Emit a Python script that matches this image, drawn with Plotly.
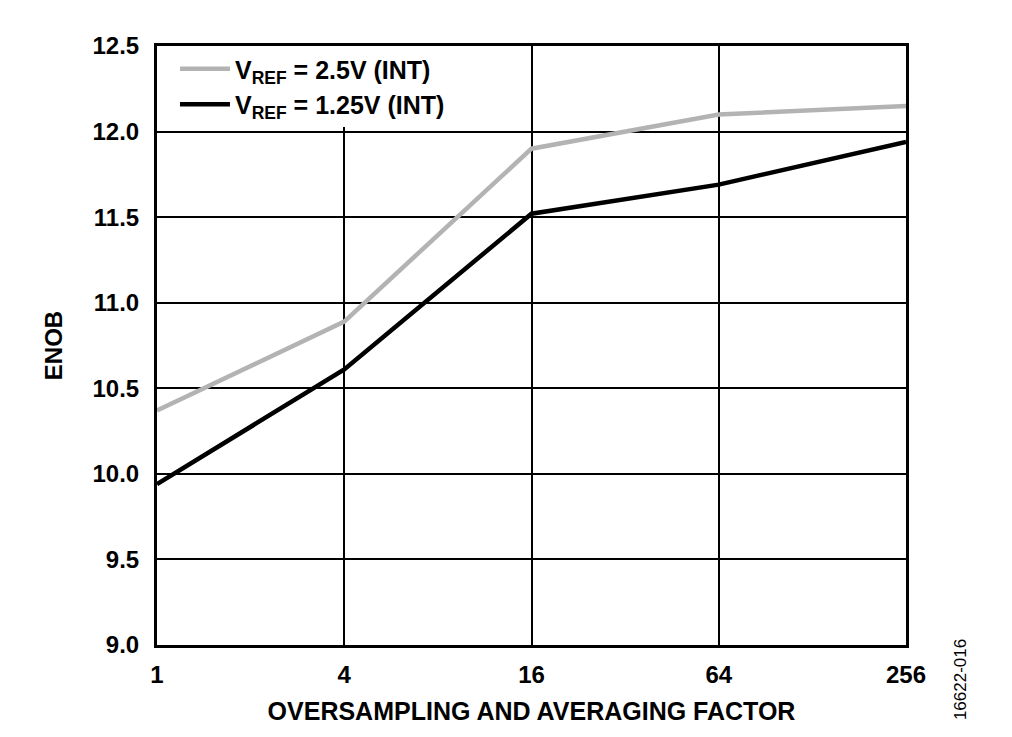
import plotly.graph_objects as go

factor = [1, 4, 16, 64, 256]
enob_25v = [10.37, 10.89, 11.90, 12.10, 12.15]
enob_125v = [9.94, 10.61, 11.52, 11.69, 11.94]
x_ticks = ["1", "4", "16", "64", "256"]
y_ticks = [9.0, 9.5, 10.0, 10.5, 11.0, 11.5, 12.0, 12.5]

font_name = "Liberation Sans"

fig = go.Figure()
fig.add_trace(go.Scatter(x=factor, y=enob_25v, mode="lines", name="<b>V<sub>REF</sub> = 2.5V (INT)</b>",
                         line=dict(color="#b3b3b3", width=4.5)))
fig.add_trace(go.Scatter(x=factor, y=enob_125v, mode="lines", name="<b>V<sub>REF</sub> = 1.25V (INT)</b>",
                         line=dict(color="#000000", width=4.5)))

# page body adds ~8px offset, so margins are shifted to compensate
fig.update_layout(
    width=1012, height=737,
    plot_bgcolor="white", paper_bgcolor="white",
    margin=dict(l=149, r=114, t=38, b=100),
    font=dict(family=font_name, size=24, color="black"),
    showlegend=True,
    legend=dict(x=0.024, y=1.0, xanchor="left", yanchor="top", bgcolor="white",
                font=dict(size=25, family=font_name), tracegroupgap=0, itemwidth=50),
)

fig.update_xaxes(type="log", range=[0, 2.40824], tickvals=factor, ticktext=["<b>%s</b>" % t for t in x_ticks],
                 showgrid=True, gridcolor="black", gridwidth=2, zeroline=False,
                 showline=True, linecolor="black", linewidth=3, mirror=True, ticks="outside", ticklen=6,
                 tickcolor="white",
                 title=dict(text="<b>OVERSAMPLING AND AVERAGING FACTOR</b>", font=dict(size=25), standoff=16))
fig.update_yaxes(range=[9.0, 12.5], tickvals=y_ticks, ticktext=["<b>%.1f</b>" % v for v in y_ticks],
                 showgrid=True, gridcolor="black", gridwidth=2, zeroline=False,
                 showline=True, linecolor="black", linewidth=3, mirror=True, ticks="outside", ticklen=10,
                 tickcolor="white",
                 title=dict(text="<b>ENOB</b>", font=dict(size=24), standoff=24))

fig.add_annotation(text="16622-016", xref="paper", yref="paper", x=1.072, y=-0.128, xanchor="center", yanchor="bottom",
                   textangle=-90, showarrow=False, font=dict(size=17, family=font_name))

fig.write_html("out.html")
